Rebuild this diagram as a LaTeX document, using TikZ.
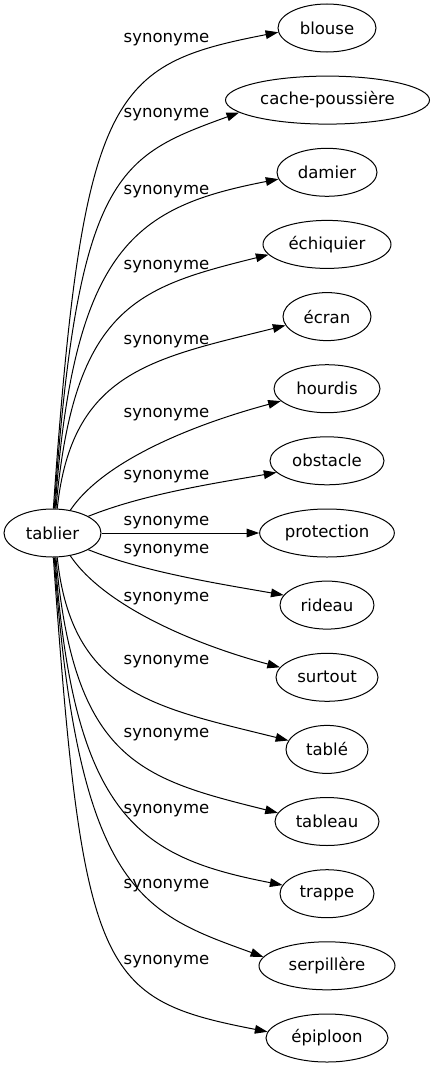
\documentclass[tikz,border=0pt]{standalone}
\usepackage{fontspec}
\setmainfont{DejaVu Sans}
\usetikzlibrary{shapes.geometric,arrows.meta}
\begin{document}
\begin{tikzpicture}[x=0.75pt,y=0.75pt,
  nd/.style={ellipse,draw,line width=0.75pt,minimum height=36pt,inner sep=0pt,font=\fontsize{12.4pt}{15pt}\selectfont},
  lbl/.style={font=\fontsize{12.4pt}{15pt}\selectfont,inner sep=0pt},
  edge/.style={draw,line width=0.75pt,-{Triangle[length=9.5pt,width=6.5pt]}}]
\useasboundingbox (0,0) rectangle (434,-1067);
% nodes
\node[nd,minimum width=72.75pt] (tablier) at (52.5,-533) {tablier};
\node[nd,minimum width=73.5pt] (blouse) at (327,-28) {blouse};
\node[nd,minimum width=153pt] (cache) at (327.5,-100.1) {cache-poussière};
\node[nd,minimum width=75pt] (damier) at (327,-172.3) {damier};
\node[nd,minimum width=96pt] (echiquier) at (327,-244.4) {échiquier};
\node[nd,minimum width=66pt] (ecran) at (327,-316.6) {écran};
\node[nd,minimum width=79.5pt] (hourdis) at (327,-388.7) {hourdis};
\node[nd,minimum width=85.5pt] (obstacle) at (327,-460.8) {obstacle};
\node[nd,minimum width=101pt] (protection) at (327,-533) {protection};
\node[nd,minimum width=70.5pt] (rideau) at (327,-605.1) {rideau};
\node[nd,minimum width=76.5pt] (surtout) at (327,-677.3) {surtout};
\node[nd,minimum width=61.5pt] (table) at (327,-749.4) {tablé};
\node[nd,minimum width=78pt] (tableau) at (327,-821.5) {tableau};
\node[nd,minimum width=70.5pt] (trappe) at (327,-893.7) {trappe};
\node[nd,minimum width=102pt] (serpillere) at (327,-965.8) {serpillère};
\node[nd,minimum width=91.5pt] (epiploon) at (327,-1038) {épiploon};
% labels
\node[lbl] (l1) at (166.5,-40) {synonyme};
\node[lbl] (l2) at (166.5,-115) {synonyme};
\node[lbl] (l3) at (166.5,-192) {synonyme};
\node[lbl] (l4) at (166.5,-267) {synonyme};
\node[lbl] (l5) at (166.5,-342) {synonyme};
\node[lbl] (l6) at (166.5,-415) {synonyme};
\node[lbl] (l7) at (166.5,-477) {synonyme};
\node[lbl] (l8) at (166.5,-523) {synonyme};
\node[lbl] (l9) at (166.5,-551) {synonyme};
\node[lbl] (l10) at (166.5,-599) {synonyme};
\node[lbl] (l11) at (166.5,-662) {synonyme};
\node[lbl] (l12) at (166.5,-735) {synonyme};
\node[lbl] (l13) at (166.5,-811) {synonyme};
\node[lbl] (l14) at (166.5,-886) {synonyme};
\node[lbl] (l15) at (166.5,-962) {synonyme};
% edges
\draw[edge] (tablier.88) .. controls +(86:420) and +(191:170) .. (blouse.185);
\draw[edge] (tablier.86) .. controls +(86:337) and +(200:128) .. (cache.188);
\draw[edge] (tablier.84) .. controls +(86:264) and +(191:145) .. (damier.188);
\draw[edge] (tablier.82) .. controls +(85:204) and +(194:134) .. (echiquier.190);
\draw[edge] (tablier.79) .. controls +(84:138) and +(194:137) .. (ecran.192);
\draw[edge] (tablier.52) .. controls +(56:60) and +(195:90) .. (hourdis.195);
\draw[edge] (tablier.25) .. controls +(22:60) and +(190:60) .. (obstacle.193);
\draw[edge] (tablier) -- (protection);
\draw[edge] (tablier.335) .. controls +(338:60) and +(170:60) .. (rideau.167);
\draw[edge] (tablier.308) .. controls +(304:60) and +(165:90) .. (surtout.168);
\draw[edge] (tablier.281) .. controls +(276:138) and +(166:137) .. (table.167);
\draw[edge] (tablier.278) .. controls +(275:205) and +(166:141) .. (tableau.170);
\draw[edge] (tablier.276) .. controls +(274:262) and +(169:145) .. (trappe.169);
\draw[edge] (tablier.274) .. controls +(274:337) and +(160:128) .. (serpillere.172);
\draw[edge] (tablier.272) .. controls +(274:420) and +(169:170) .. (epiploon.174);
\end{tikzpicture}
\end{document}
